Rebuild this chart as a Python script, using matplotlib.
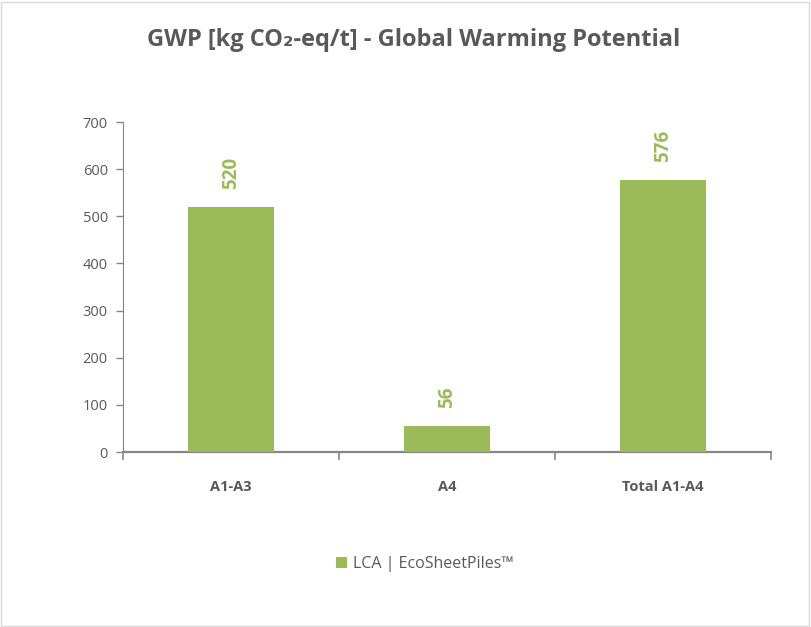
import matplotlib.pyplot as plt
from matplotlib.patches import Rectangle

categorias = ['A1-A3', 'A4', 'Total A1-A4']
valores = [520, 56, 576]
serie = 'LCA | EcoSheetPiles™'

verde = '#9BBB59'
gris = '#595959'
eje = '#868686'

plt.rcParams['font.family'] = ['Open Sans', 'DejaVu Sans']

fig = plt.figure(figsize=(8.11, 6.27), dpi=100)
ax = fig.add_axes([0.1517, 0.279, 0.799, 0.5264])

x = list(range(len(categorias)))
barras = ax.bar(x, valores, width=0.395, color=verde, label=serie, zorder=3)

for b, v in zip(barras, valores):
    ax.annotate(f'{v}', (b.get_x() + b.get_width() / 2, v),
                xytext=(0, 13), textcoords='offset points',
                rotation=90, ha='center', va='bottom',
                color=verde, fontsize=13.5, fontweight='bold')

ax.set_xlim(-0.5, len(categorias) - 0.5)
ax.set_ylim(0, 700)
ax.set_yticks(range(0, 701, 100))
ax.tick_params(axis='y', colors=eje, labelcolor=gris, labelsize=10.5,
               length=5, width=1, pad=6)

# marcas del eje x en los limites de cada categoria
ax.set_xticks([i + 0.5 for i in range(-1, len(categorias))], minor=False)
ax.set_xticklabels([])
ax.set_xticks(x, minor=True)
ax.set_xticklabels(categorias, minor=True, fontweight='bold', color=gris, fontsize=10.5)
ax.tick_params(axis='x', which='major', colors=eje, length=6, width=1.2, direction='out')
ax.tick_params(axis='x', which='minor', length=0, pad=20)

for s in ['top', 'right']:
    ax.spines[s].set_visible(False)
ax.spines['left'].set_color(eje)
ax.spines['bottom'].set_color(eje)
ax.spines['bottom'].set_linewidth(1.6)

fig.text(0.51, 0.937, 'GWP [kg CO₂-eq/t] - Global Warming Potential',
         ha='center', va='center', fontsize=17, fontweight='bold', color=gris)

fig.legend(handles=[barras], labels=[serie], loc='center', bbox_to_anchor=(0.524, 0.10),
           frameon=False, handlelength=0.7, handleheight=0.7, handletextpad=0.4,
           fontsize=11.5, labelcolor=gris)

fig.patches.append(Rectangle((0.001, 0.001), 0.996, 0.996, transform=fig.transFigure,
                             fill=False, edgecolor='#D9D9D9', linewidth=1))

plt.savefig('out.png', dpi=100)
plt.close()
